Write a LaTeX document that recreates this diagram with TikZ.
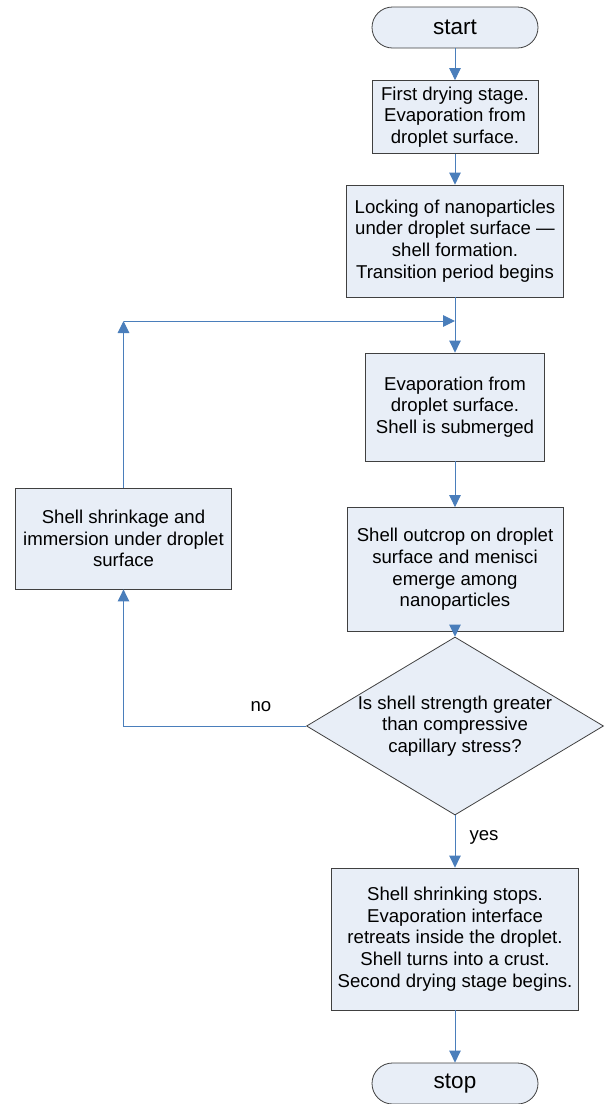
\documentclass[tikz,border=0pt]{standalone}
\usepackage{fontspec}
\setmainfont{Liberation Sans}
\usetikzlibrary{arrows.meta,shapes.geometric}
\definecolor{fillc}{HTML}{E8EEF7}
\definecolor{linec}{HTML}{4A7EBB}
\begin{document}
\begin{tikzpicture}[x=1pt,y=-1pt,
  box/.style={draw=black!75, fill=fillc, line width=0.8pt, align=center, inner sep=0pt,
    font=\fontsize{18.6}{21.7}\selectfont},
  term/.style={box, rounded corners=20.5pt, minimum width=166pt, minimum height=41pt,
    font=\fontsize{22.5}{26}\selectfont},
  decision/.style={diamond, draw=black!75, fill=fillc, line width=0.8pt, inner sep=0pt,
    minimum width=297pt, minimum height=178pt},
  txt/.style={align=center, inner sep=0pt, font=\fontsize{18.6}{21.7}\selectfont},
  conn/.style={draw=linec, line width=1pt, -{Triangle[width=11.5pt,length=12pt]}}
]
\useasboundingbox (0,0) rectangle (610,1104);
\node[term] (start) at (455,27.5) {start};
\node[box, minimum width=166pt, minimum height=73pt] (b1) at (455,117)
  {First drying stage.\\Evaporation from\\droplet surface.};
\node[box, minimum width=217pt, minimum height=112pt] (b2) at (455,241)
  {Locking of nanoparticles\\under droplet surface —\\shell formation.\\Transition period begins};
\coordinate (j) at (455,321);
\node[box, minimum width=179pt, minimum height=108pt] (b3) at (455,407)
  {Evaporation from\\droplet surface.\\Shell is submerged};
\node[box, minimum width=216pt, minimum height=124pt] (b4) at (455,569.5)
  {Shell outcrop on droplet\\surface and menisci\\emerge among\\nanoparticles};
\node[box, minimum width=216pt, minimum height=101pt] (lb) at (123.5,538.5)
  {Shell shrinkage and\\immersion under droplet\\surface};
\node[decision] (dec) at (455,726) {};
\node[txt] (dectext) at (dec.center)
  {Is shell strength greater\\than compressive\\capillary stress?};
\node[box, minimum width=247pt, minimum height=142pt] (b5) at (455,939)
  {Shell shrinking stops.\\Evaporation interface\\retreats inside the droplet.\\Shell turns into a crust.\\Second drying stage begins.};
\node[term] (stop) at (455,1083.5) {stop};
\coordinate (lc) at (123.5,726);
\coordinate (lt) at (123.5,321);

\draw[conn] (start) -- (b1);
\draw[conn] (b1) -- (b2);
\draw[conn] (b2) -- (b3);
\draw[conn] (b3) -- (b4);
\draw[conn] (b4) -- (dec);
\draw[conn] (dec) -- (b5);
\draw[conn] (b5) -- (stop);
\draw[conn] (dec.west) -- (lc) -- (lb.south);
\draw[conn] (lb.north) -- (lt);
\draw[conn] (lt) -- (j);
\node[txt] (no) at (261,706.5) {no};
\node[txt] (yes) at (484,837) {yes};
\end{tikzpicture}
\end{document}
